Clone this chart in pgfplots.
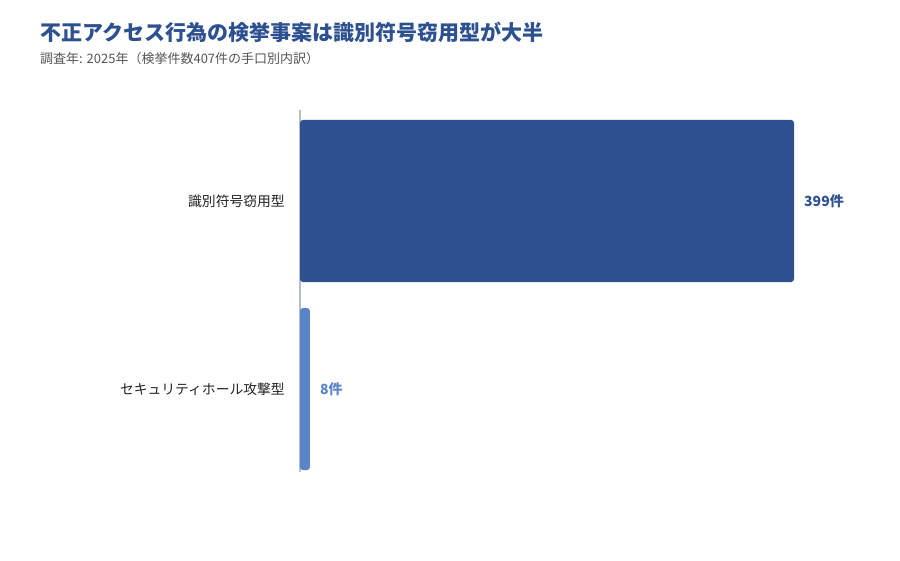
\documentclass[border=0pt]{standalone}
\usepackage{fontspec}
\setmainfont{Noto Sans CJK JP}
\usepackage{pgfplots}
\pgfplotsset{compat=1.18}
\definecolor{navy}{HTML}{2D5190}
\definecolor{lightbar}{HTML}{5B84C6}
\definecolor{axisgray}{HTML}{B4BDCA}
\definecolor{subgray}{HTML}{555555}
\definecolor{labelgray}{HTML}{222222}

\begin{document}
\begin{tikzpicture}
    \path[use as bounding box] (0pt,0pt) rectangle (900pt,-560pt);
    % title and subtitle
    \node[anchor=base west, inner sep=0pt, text=navy,
          font=\fontsize{21}{24}\selectfont\bfseries] at (40pt,-40.5pt)
          {不正アクセス行為の検挙事案は識別符号窃用型が大半};
    \node[anchor=base west, inner sep=0pt, text=subgray,
          font=\fontsize{13}{15}\selectfont] at (40pt,-63.5pt)
          {調査年: 2025年（検挙件数407件の手口別内訳）};
    \begin{axis}[
            at={(300pt,-472pt)}, anchor=south west,
            scale only axis,
            width=494pt, height=362pt,
            xmin=0, xmax=399,
            ymin=-0.441, ymax=1.484,
            xbar, bar shift=0pt, bar width=0.862,
            axis x line=none,
            axis y line*=left,
            y axis line style={axisgray, line width=1.4pt},
            xtick=\empty,
            ytick={0,1},
            yticklabels={セキュリティホール攻撃型, 識別符号窃用型},
            major tick length=0pt,
            yticklabel style={font=\fontsize{13.8}{16}\selectfont, text=labelgray,
                              inner sep=0pt, xshift=-15pt},
            /pgf/number format/assume math mode=true,
            point meta=x,
            nodes near coords={\pgfmathprintnumber{\pgfplotspointmeta}件},
            nodes near coords style={font=\fontsize{14}{16}\selectfont\bfseries,
                                     inner sep=0pt, anchor=west, xshift=10pt},
            clip=false,
        ]
        \addplot[fill=navy, draw=none, rounded corners=3pt,
                 nodes near coords style={text=navy}]
            coordinates {(399,1)};
        \addplot[fill=lightbar, draw=none, rounded corners=3pt,
                 nodes near coords style={text=lightbar}]
            coordinates {(8,0)};
    \end{axis}
\end{tikzpicture}
\end{document}
